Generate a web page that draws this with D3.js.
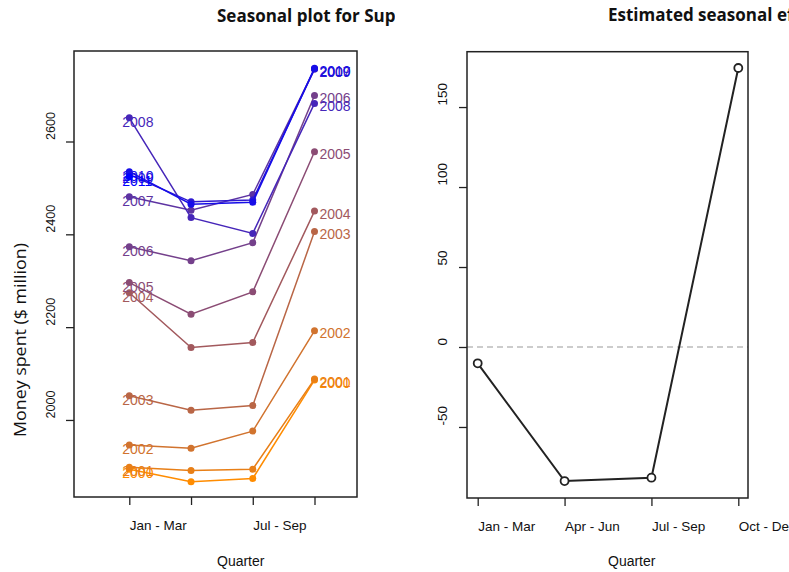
<!DOCTYPE html>
<html>
<head>
<meta charset="utf-8">
<script src="https://cdn.jsdelivr.net/npm/d3@7"></script>
<style>
  body { margin: 0; background: #fff; }
  svg { display: block; font-family: 'Liberation Sans', Arial, sans-serif; }
  .title { font-family: 'Open Sans', 'Noto Sans', sans-serif; font-weight: bold; font-size: 17px; fill: #111; }
  .axis-title { font-size: 14px; fill: #111; }
  .tick text { font-family: 'Liberation Sans', Arial, sans-serif; font-size: 13.5px; fill: #111; }
  .year-label { font-size: 14px; }
</style>
</head>
<body>
<div id="chart"></div>
<script>
// quarters and years
const quarters = ['Jan - Mar', 'Apr - Jun', 'Jul - Sep', 'Oct - Dec'];
const leftQuarterLabels = ['Jan - Mar', 'Jul - Sep']; // R drops the overlapping ones
const years = [2000, 2001, 2002, 2003, 2004, 2005, 2006, 2007, 2008, 2009, 2010, 2011];

// money spent ($ million) per quarter, one array per year
const spend2000 = [1894, 1867, 1874, 2086];
const spend2001 = [1898, 1891, 1894, 2088];
const spend2002 = [1946, 1939, 1976, 2192];
const spend2003 = [2052, 2021, 2031, 2406];
const spend2004 = [2274, 2156, 2167, 2450];
const spend2005 = [2296, 2228, 2276, 2578];
const spend2006 = [2373, 2343, 2382, 2699];
const spend2007 = [2481, 2452, 2486, 2756];
const spend2008 = [2651, 2436, 2402, 2682];
const spend2009 = [2529, 2470, 2474, 2756];
const spend2010 = [2535, 2465, 2469, 2758];
const spend2011 = [2524];

// estimated seasonal effect per quarter
const seasonalEffects = [-10.2, -83.8, -81.7, 174.4];

const leftTicks = [2000, 2200, 2400, 2600];
const rightTicks = [-50, 0, 50, 100, 150];

const spending = [
  spend2000, spend2001, spend2002, spend2003, spend2004, spend2005,
  spend2006, spend2007, spend2008, spend2009, spend2010, spend2011,
];

const width = 789;
const height = 572;

const svg = d3
  .select('#chart')
  .append('svg')
  .attr('width', width)
  .attr('height', height);

const defs = svg.append('defs');
defs.append('clipPath').attr('id', 'clip-left')
  .append('rect').attr('x', 0).attr('y', 0).attr('width', 395).attr('height', height);
defs.append('clipPath').attr('id', 'clip-right')
  .append('rect').attr('x', 395).attr('y', 0).attr('width', width - 395).attr('height', height);

const colorScale = d3
  .scaleSequential(d3.interpolateRgb('darkorange', 'blue'))
  .domain([0, years.length - 1]);

// ---------- left panel: seasonal plot ----------
const left = svg.append('g').attr('clip-path', 'url(#clip-left)');
const lBox = { x0: 74, x1: 357, y0: 51, y1: 497 };

const xLeft = d3.scalePoint().domain(quarters).range([129.3, 314.5]);
const yLeft = d3.scaleLinear().domain([1834, 2795]).range([lBox.y1, lBox.y0]);

left.append('text')
  .attr('class', 'title')
  .attr('x', 217)
  .attr('y', 22)
  .text('Seasonal plot for Supermarket spending');

left.append('g')
  .attr('transform', `translate(0,${lBox.y1})`)
  .call(d3.axisBottom(xLeft).tickSize(8).tickSizeOuter(0)
    .tickFormat((d) => (leftQuarterLabels.includes(d) ? d : '')))
  .call((g) => g.select('.domain').remove())
  .call((g) => g.selectAll('.tick line').attr('stroke', '#222').attr('stroke-width', 1.3))
  .call((g) => g.selectAll('.tick text').attr('text-anchor', 'start').attr('dy', null).attr('y', 33));

left.append('g')
  .attr('transform', `translate(${lBox.x0},0)`)
  .call(d3.axisLeft(yLeft).tickValues(leftTicks).tickFormat((d) => String(d)).tickSize(8).tickSizeOuter(0))
  .call((g) => g.select('.domain').remove())
  .call((g) => g.selectAll('.tick line').attr('stroke', '#222').attr('stroke-width', 1.3))
  .call((g) => g.selectAll('.tick text')
    .attr('x', null).attr('dy', null)
    .attr('text-anchor', 'start')
    .attr('transform', 'translate(-19,-2) rotate(-90)')
    .attr('textLength', 28)
    .attr('lengthAdjust', 'spacingAndGlyphs'));

left.append('text')
  .attr('class', 'axis-title')
  .attr('transform', 'translate(26,437) rotate(-90)')
  .attr('text-anchor', 'start')
  .style('font-family', "'Open Sans', 'Noto Sans', sans-serif")
  .style('font-size', '17px')
  .attr('textLength', 194)
  .attr('lengthAdjust', 'spacingAndGlyphs')
  .text('Money spent ($ million)');

left.append('text')
  .attr('class', 'axis-title')
  .attr('x', 217)
  .attr('y', 566)
  .text('Quarter');

const line = d3
  .line()
  .x((d, i) => xLeft(quarters[i]))
  .y((d) => yLeft(d));

const yearGroups = left
  .append('g')
  .selectAll('g')
  .data(years.map((year, i) => ({ year, values: spending[i], color: colorScale(i) })))
  .join('g');

yearGroups
  .append('path')
  .attr('fill', 'none')
  .attr('stroke', (d) => d.color)
  .attr('stroke-width', 1.5)
  .attr('d', (d) => line(d.values));

yearGroups
  .selectAll('circle')
  .data((d) => d.values.map((v, i) => ({ v, i, color: d.color })))
  .join('circle')
  .attr('cx', (d) => xLeft(quarters[d.i]))
  .attr('cy', (d) => yLeft(d.v))
  .attr('r', 3.5)
  .attr('fill', (d) => d.color);

// year labels at the left and right ends
yearGroups
  .append('text')
  .attr('class', 'year-label')
  .attr('x', xLeft(quarters[0]) - 7)
  .attr('y', (d) => yLeft(d.values[0]) + 9)
  .attr('fill', (d) => d.color)
  .text((d) => d.year);

yearGroups
  .filter((d) => d.values.length === quarters.length)
  .append('text')
  .attr('class', 'year-label')
  .attr('x', xLeft(quarters[3]) + 5)
  .attr('y', (d) => yLeft(d.values[3]) + 7.5)
  .attr('fill', (d) => d.color)
  .text((d) => d.year);

left.append('rect')
  .attr('x', lBox.x0).attr('y', lBox.y0)
  .attr('width', lBox.x1 - lBox.x0).attr('height', lBox.y1 - lBox.y0)
  .attr('fill', 'none').attr('stroke', '#222').attr('stroke-width', 1.5);

// ---------- right panel: estimated seasonal effects ----------
const right = svg.append('g').attr('clip-path', 'url(#clip-right)');
const rBox = { x0: 467, x1: 748, y0: 51.7, y1: 498 };

const xRight = d3.scalePoint().domain(quarters).range([477.7, 738.3]);
const yRight = d3.scaleLinear().domain([-94.4, 184.6]).range([rBox.y1, rBox.y0]);

right.append('text')
  .attr('class', 'title')
  .attr('x', 608)
  .attr('y', 21)
  .text('Estimated seasonal effects');

right.append('g')
  .attr('transform', `translate(0,${rBox.y1})`)
  .call(d3.axisBottom(xRight).tickSize(8).tickSizeOuter(0))
  .call((g) => g.select('.domain').remove())
  .call((g) => g.selectAll('.tick line').attr('stroke', '#222').attr('stroke-width', 1.3))
  .call((g) => g.selectAll('.tick text').attr('text-anchor', 'start').attr('dy', null).attr('y', 33));

right.append('g')
  .attr('transform', `translate(${rBox.x0},0)`)
  .call(d3.axisLeft(yRight).tickValues(rightTicks).tickFormat((d) => String(d)).tickSize(8).tickSizeOuter(0))
  .call((g) => g.select('.domain').remove())
  .call((g) => g.selectAll('.tick line').attr('stroke', '#222').attr('stroke-width', 1.3))
  .call((g) => g.selectAll('.tick text')
    .attr('x', null).attr('dy', null)
    .attr('text-anchor', 'start')
    .attr('transform', 'translate(-20.5,-2) rotate(-90)'));

right.append('text')
  .attr('class', 'axis-title')
  .attr('x', 608)
  .attr('y', 566)
  .text('Quarter');

// zero reference line
right.append('line')
  .attr('x1', rBox.x0).attr('x2', rBox.x1)
  .attr('y1', yRight(0)).attr('y2', yRight(0))
  .attr('stroke', '#999').attr('stroke-width', 1.2)
  .attr('stroke-dasharray', '6,4');

right.append('path')
  .datum(seasonalEffects)
  .attr('fill', 'none')
  .attr('stroke', '#222')
  .attr('stroke-width', 2)
  .attr('d', d3.line().x((d, i) => xRight(quarters[i])).y((d) => yRight(d)));

right.append('g')
  .selectAll('circle')
  .data(seasonalEffects)
  .join('circle')
  .attr('cx', (d, i) => xRight(quarters[i]))
  .attr('cy', (d) => yRight(d))
  .attr('r', 4)
  .attr('fill', '#fff')
  .attr('stroke', '#222')
  .attr('stroke-width', 1.8);

right.append('rect')
  .attr('x', rBox.x0).attr('y', rBox.y0)
  .attr('width', rBox.x1 - rBox.x0).attr('height', rBox.y1 - rBox.y0)
  .attr('fill', 'none').attr('stroke', '#222').attr('stroke-width', 1.5);
</script>
</body>
</html>
